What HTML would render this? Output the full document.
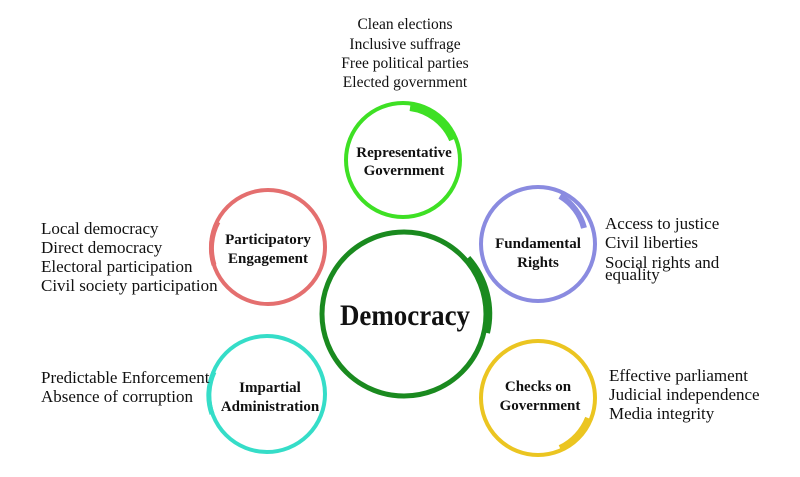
<!DOCTYPE html>
<html><head><meta charset="utf-8"><style>
html,body{margin:0;padding:0;background:#fff;}
svg{display:block;}
text{font-family:"Liberation Serif",serif;fill:#111;}
.l{font-size:17px;}
.t{font-size:15.5px;text-anchor:middle;}
.b{font-size:15px;font-weight:bold;text-anchor:middle;}
</style></head><body>
<svg width="800" height="477" viewBox="0 0 800 477" xmlns="http://www.w3.org/2000/svg">
<g fill="none">
<circle cx="404" cy="314" r="82" stroke="#1a8a1f" stroke-width="5"/>
<path d="M468 258 A84 84 0 0 1 487 333" stroke="#1a8a1f" stroke-width="6"/>
<circle cx="403" cy="160" r="57" stroke="#3ee024" stroke-width="4"/>
<path d="M410 108 A53 53 0 0 1 452 140" stroke="#3ee024" stroke-width="6"/>
<circle cx="268" cy="247" r="57" stroke="#e46f6f" stroke-width="4"/>
<path d="M214 265 A56 56 0 0 1 218 222" stroke="#e46f6f" stroke-width="5"/>
<circle cx="538" cy="244" r="57" stroke="#8a8be0" stroke-width="4"/>
<path d="M560 196 A52 52 0 0 1 584 228" stroke="#8a8be0" stroke-width="6"/>
<circle cx="267" cy="394" r="58" stroke="#35ddc8" stroke-width="4"/>
<path d="M212 414 A56 56 0 0 1 214 372" stroke="#35ddc8" stroke-width="5"/>
<circle cx="538" cy="398" r="57" stroke="#ebc521" stroke-width="4"/>
<path d="M588 418 A56 56 0 0 1 560 448" stroke="#ebc521" stroke-width="6"/>
</g>
<text x="340" y="325" textLength="130" lengthAdjust="spacingAndGlyphs" style="font-size:30px;font-weight:bold;">Democracy</text>
<text class="b" x="404" y="157">Representative</text>
<text class="b" x="404" y="175">Government</text>
<text class="b" x="268" y="244">Participatory</text>
<text class="b" x="268" y="263">Engagement</text>
<text class="b" x="538" y="248">Fundamental</text>
<text class="b" x="538" y="267">Rights</text>
<text class="b" x="270" y="392">Impartial</text>
<text class="b" x="270" y="411">Administration</text>
<text class="b" x="538" y="391">Checks on</text>
<text class="b" x="540" y="410">Government</text>
<text class="t" x="405" y="29">Clean elections</text>
<text class="t" x="405" y="49">Inclusive suffrage</text>
<text class="t" x="405" y="68">Free political parties</text>
<text class="t" x="405" y="87">Elected government</text>
<text class="l" x="41" y="234">Local democracy</text>
<text class="l" x="41" y="253">Direct democracy</text>
<text class="l" x="41" y="272">Electoral participation</text>
<text class="l" x="41" y="291">Civil society participation</text>
<text class="l" x="605" y="229">Access to justice</text>
<text class="l" x="605" y="248">Civil liberties</text>
<text class="l" x="605" y="268">Social rights and</text>
<text class="l" x="605" y="280">equality</text>
<text class="l" x="41" y="383">Predictable Enforcement</text>
<text class="l" x="41" y="402">Absence of corruption</text>
<text class="l" x="609" y="381">Effective parliament</text>
<text class="l" x="609" y="400">Judicial independence</text>
<text class="l" x="609" y="419">Media integrity</text>
</svg>
</body></html>
